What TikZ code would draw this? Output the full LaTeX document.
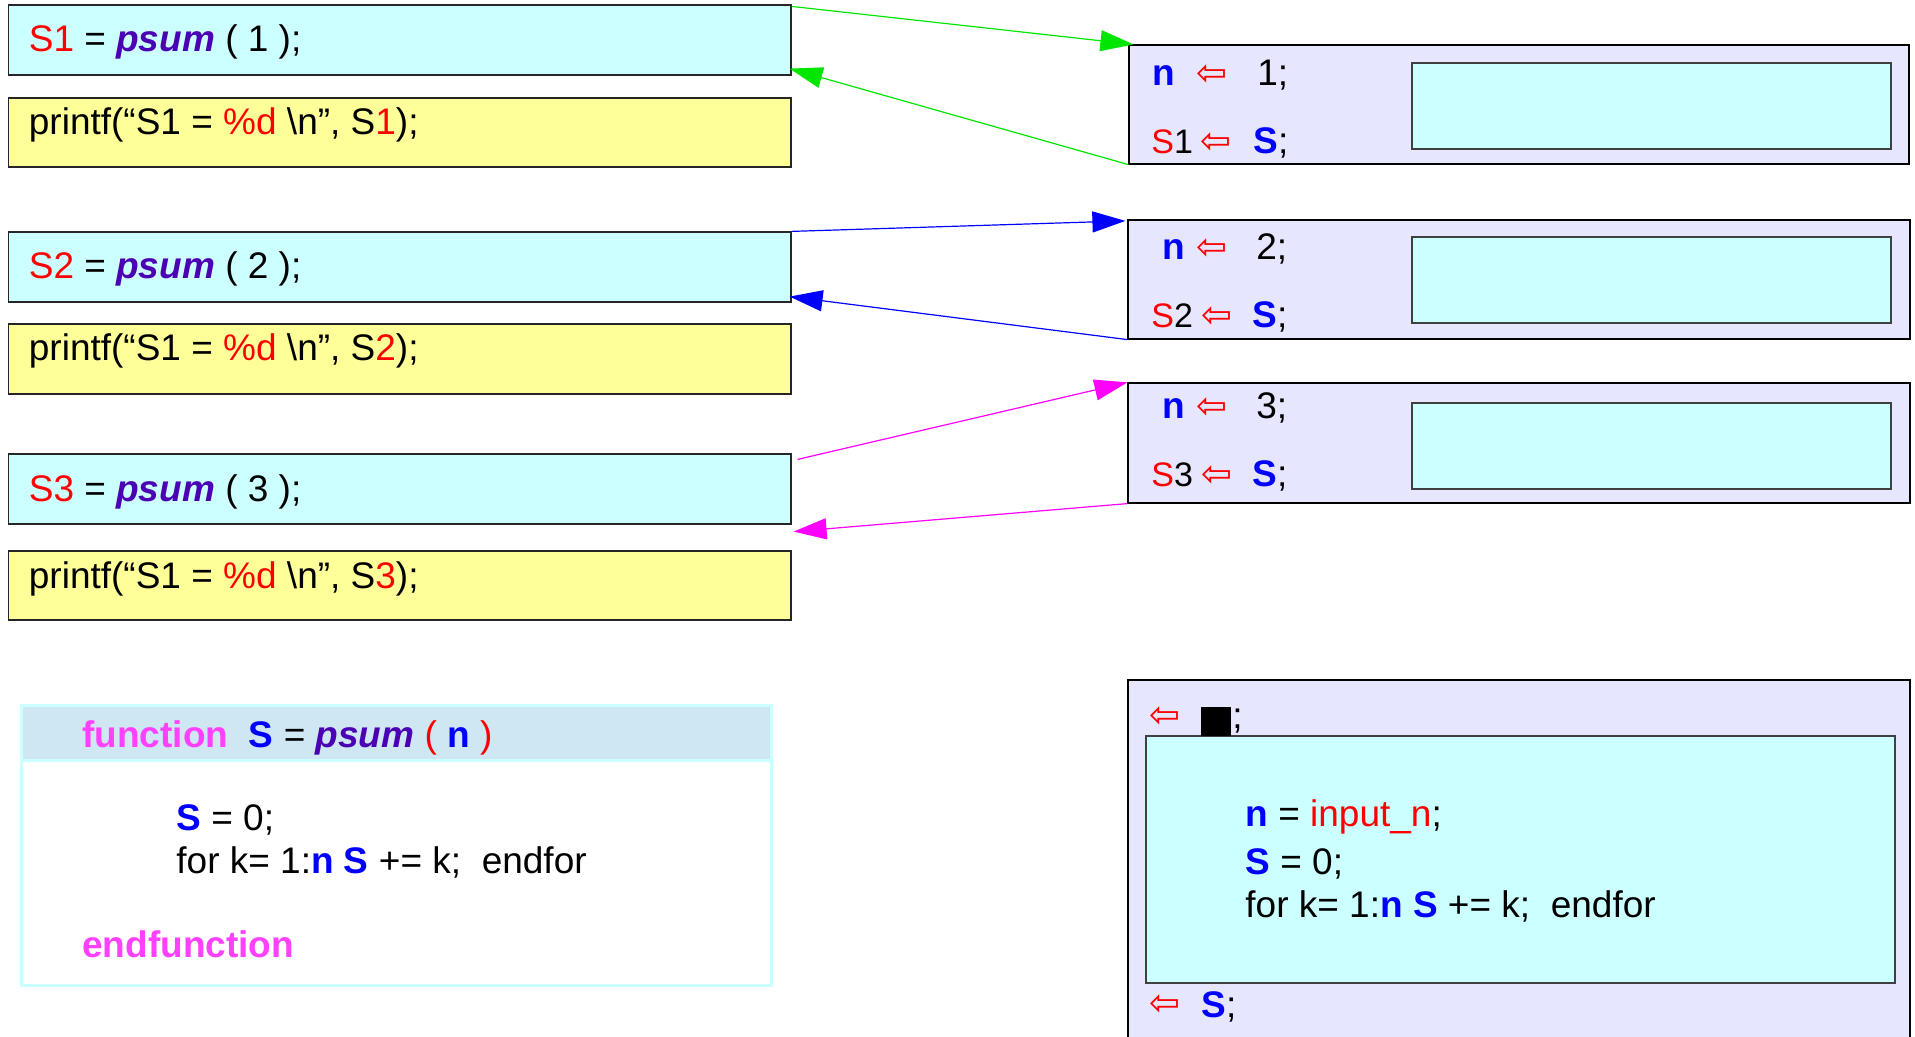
\documentclass[tikz,border=0pt]{standalone}
\usepackage{fontspec}
\setmainfont{Liberation Sans}
\newfontfamily\arrfont{DejaVu Sans}
\usetikzlibrary{arrows.meta,fit,calc}

\definecolor{cyb}{HTML}{CCFFFF}
\definecolor{yel}{HTML}{FFFF99}
\definecolor{lav}{HTML}{E6E6FF}
\definecolor{hdr}{HTML}{CFE6F3}
\definecolor{psumc}{HTML}{4B00B4}
\definecolor{fmag}{HTML}{FF40FF}
\definecolor{grn}{HTML}{00E600}
\definecolor{mag}{HTML}{FF00FF}

% shorthand for coloured code fragments
\newcommand{\rd}[1]{\textcolor{red}{#1}}
\newcommand{\bl}[1]{\textcolor{blue}{\bfseries #1}}
\newcommand{\ps}{\textcolor{psumc}{\bfseries\itshape psum}}
\newcommand{\la}{\textcolor{red}{\arrfont ⇦}}

\tikzset{
  codebox/.style={draw=black!85, line width=0.6pt, fill=cyb, inner sep=0pt},
  prbox/.style={draw=black!85, line width=0.6pt, fill=yel, inner sep=0pt},
  frame/.style={draw=black, line width=0.6pt, fill=lav, inner sep=0pt},
  inbox/.style={draw=black!75, line width=0.6pt, fill=cyb, inner sep=0pt},
  code/.style={anchor=base west, inner sep=0pt, font=\fontsize{18.5}{22}\selectfont},
  lbl/.style={code, font=\fontsize{17}{20}\selectfont},
  arrow/.style={line width=0.6pt, -{Triangle[length=16.5pt,width=10.5pt]}},
}
% box spanning two corners: name, style, x1, y1, x2, y2
\newcommand{\boxfit}[6]{\node[#2, fit={(#3,#4) (#5,#6)}] (#1) {};}

\begin{document}
\begin{tikzpicture}[x=0.5pt, y=-0.5pt]
\useasboundingbox (0,0) rectangle (1915,1037);
\clip (0,0) rectangle (1915,1037);

% calls in the main program
\boxfit{s1}{codebox}{8.5}{5}{791}{75}
\boxfit{p1}{prbox}{8.5}{98}{791}{167}
\boxfit{s2}{codebox}{8.5}{232}{791}{302}
\boxfit{p2}{prbox}{8.5}{324}{791}{394}
\boxfit{s3}{codebox}{8.5}{454}{791}{524}
\boxfit{p3}{prbox}{8.5}{551}{791}{620}

\node[code] (ts1) at (28.5,52)  {\rd{S1} = \ps\ ( 1 );};
\node[code] (tp1) at (28.5,135) {printf(“S1 = \rd{\%d} \textbackslash n”, S\rd{1});};
\node[code] (ts2) at (28.5,279) {\rd{S2} = \ps\ ( 2 );};
\node[code] (tp2) at (28.5,361) {printf(“S1 = \rd{\%d} \textbackslash n”, S\rd{2});};
\node[code] (ts3) at (28.5,501) {\rd{S3} = \ps\ ( 3 );};
\node[code] (tp3) at (28.5,588) {printf(“S1 = \rd{\%d} \textbackslash n”, S\rd{3});};

% function definition
\node[draw=cyb, line width=1.5pt, fill=white, inner sep=0pt, fit={(21,705) (771,985)}] (fn) {};
\node[draw=cyb, line width=1.5pt, fill=hdr, inner sep=0pt, fit={(21,705) (771,760)}] (fnh) {};
\node[code] (fh) at (82,747) {\textcolor{fmag}{\bfseries function}\ \ \bl{S} = \ps\ \rd{(} \bl{n} \rd{)}};
\node[code] (fb1) at (176,830) {\bl{S} = 0;};
\node[code] (fb2) at (176,873) {for k= 1:\bl{n} \bl{S} += k;\ \ endfor};
\node[code] (fe) at (82,957) {\textcolor{fmag}{\bfseries endfunction}};

% one frame per call
\boxfit{f1}{frame}{1129}{45}{1909}{164}
\boxfit{i1}{inbox}{1412}{63}{1891}{149}
\boxfit{f2}{frame}{1128}{220}{1910}{339}
\boxfit{i2}{inbox}{1412}{237}{1891}{323}
\boxfit{f3}{frame}{1128}{383}{1910}{503}
\boxfit{i3}{inbox}{1412}{403}{1891}{489}

\node[code] (f1a) at (1152,86) {\bl{n}};
\node[code] (f1b) at (1196,86) {\la};
\node[code] (f1c) at (1257,86) {1;};
\node[lbl]  (f1d) at (1151,154) {\rd{S}1};
\node[code] (f1e) at (1200,154) {\la};
\node[code] (f1f) at (1253,154) {\bl{S};};

\node[code] (f2a) at (1162,260) {\bl{n}};
\node[code] (f2b) at (1196,260) {\la};
\node[code] (f2c) at (1256,260) {2;};
\node[lbl]  (f2d) at (1151,328) {\rd{S}2};
\node[code] (f2e) at (1201,328) {\la};
\node[code] (f2f) at (1252,328) {\bl{S};};

\node[code] (f3a) at (1162,418) {\bl{n}};
\node[code] (f3b) at (1196,418) {\la};
\node[code] (f3c) at (1256,418) {3;};
\node[lbl]  (f3d) at (1151,486) {\rd{S}3};
\node[code] (f3e) at (1201,486) {\la};
\node[code] (f3f) at (1252,486) {\bl{S};};

% generic frame of the function body
\boxfit{f4}{frame}{1128}{680}{1910}{1045}
\boxfit{i4}{inbox}{1146}{736}{1895}{983}
\node[fill=black, inner sep=0pt, fit={(1201,707) (1231,736)}] (blk) {};
\node[code] (f4a) at (1149,727) {\la};
\node[code] (f4b) at (1232,728) {;};
\node[code] (f4c) at (1245,826) {\bl{n} = \rd{input\_n};};
\node[code] (f4d) at (1245,874) {\bl{S} = 0;};
\node[code] (f4e) at (1245,917) {for k= 1:\bl{n} \bl{S} += k;\ \ endfor};
\node[code] (f4f) at (1149,1015) {\la};
\node[code] (f4g) at (1201,1017) {\bl{S};};

% calls and returns
\draw[arrow, grn] ($(s1.north east)+(0,2)$) -- ($(f1.north west)+(5,0)$);
\draw[arrow, grn] (f1.south west) -- ($(s1.south east)+(-2,-7)$);
\draw[arrow, blue] (s2.north east) -- ($(f2.north west)+(-2,1.5)$);
\draw[arrow, blue] (f2.south west) -- ($(s2.south east)+(-2,-6)$);
\draw[arrow, mag] ($(s3.north east)+(6,6)$) -- (f3.north west);
\draw[arrow, mag] (f3.south west) -- ($(s3.south east)+(2,7)$);
\end{tikzpicture}
\end{document}
